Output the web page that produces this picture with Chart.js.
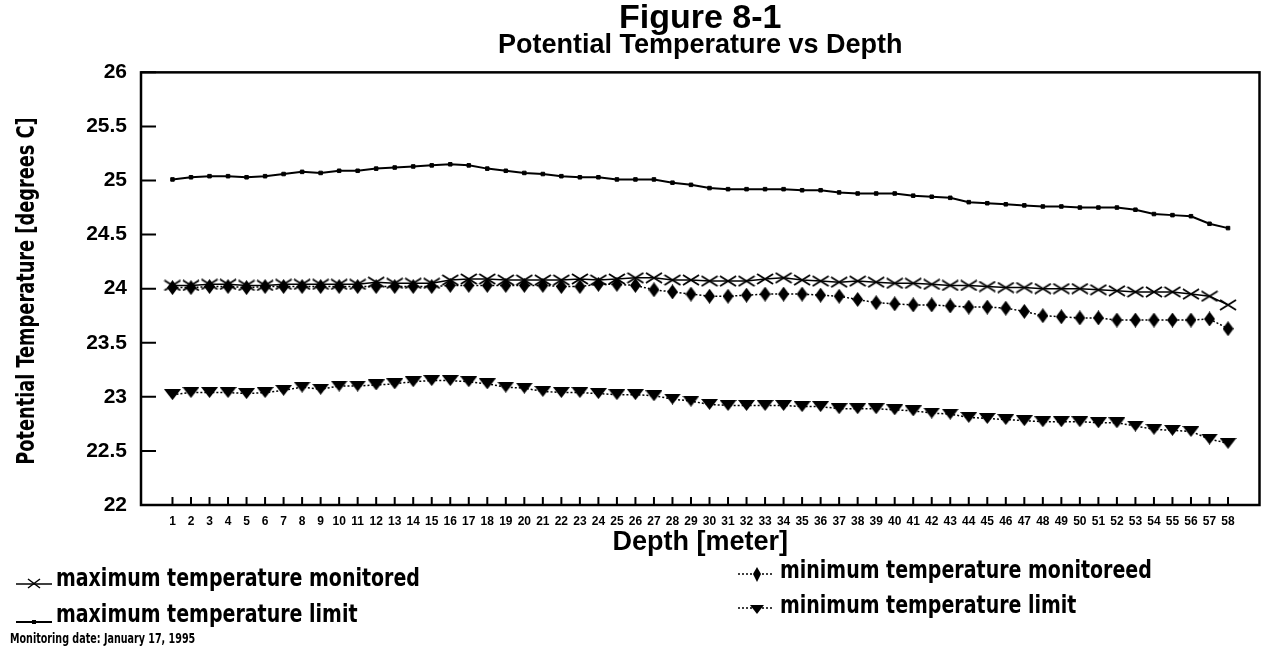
<!DOCTYPE html>
<html>
<head>
<meta charset="utf-8">
<title>Figure 8-1</title>
<script src="https://cdn.jsdelivr.net/npm/chart.js@4.4.1/dist/chart.umd.min.js"></script>
<style>
  html, body { margin: 0; padding: 0; background: #fff; }
  body { width: 1265px; height: 654px; position: relative; overflow: hidden; font-family: 'Liberation Sans', Arial, sans-serif; color: #000; }
  #wrap { position: absolute; left: 0; top: 0; width: 1265px; height: 565px; }
  .narrow { font-family: 'Liberation Sans Narrow', 'Arial Narrow', 'DejaVu Sans Condensed', sans-serif; font-weight: bold; white-space: nowrap; }
  #ytitle { position: absolute; left: 25px; top: 291px; font-size: 25px; line-height: 25px;
            transform: translate(-50%, -50%) rotate(-90deg) scaleX(0.79); }
  .sym { position: absolute; }
  .leg { position: absolute; font-size: 24px; line-height: 24px; transform: scaleX(0.88); transform-origin: 0 50%; }
  #note { position: absolute; left: 10px; top: 631px; font-size: 14px; line-height: 14px; transform: scaleX(0.76); transform-origin: 0 50%; }
</style>
</head>
<body>
<div id="wrap"><canvas id="chart" width="1265" height="565"></canvas></div>
<div id="ytitle" class="narrow">Potential Temperature [degrees C]</div>

<svg class="sym" style="left:14px; top:572px;" width="40" height="20"><line x1="2" y1="12" x2="38" y2="12" stroke="#000" stroke-width="1.5"/><path d="M14 7 L26 16 M26 7 L14 16" stroke="#000" stroke-width="1.5"/></svg>
<div class="leg narrow" style="left:56px; top:566px;">maximum temperature monitored</div>
<svg class="sym" style="left:14px; top:608px;" width="40" height="20"><line x1="2" y1="14" x2="38" y2="14" stroke="#000" stroke-width="2"/><rect x="18" y="12" width="4" height="4" fill="#000"/></svg>
<div class="leg narrow" style="left:56px; top:602px;">maximum temperature limit</div>
<svg class="sym" style="left:736px; top:561px;" width="40" height="22"><line x1="2" y1="13" x2="38" y2="13" stroke="#000" stroke-width="1.5" stroke-dasharray="2 2"/><path d="M21 6 L25 13 L21 21 L17 13 Z" fill="#000"/></svg>
<div class="leg narrow" style="left:780px; top:558px;">minimum temperature monitoreed</div>
<svg class="sym" style="left:736px; top:597px;" width="40" height="20"><line x1="2" y1="11" x2="38" y2="11" stroke="#000" stroke-width="1.5" stroke-dasharray="2 2"/><path d="M14 8 L28 8 L21 17 Z" fill="#000"/></svg>
<div class="leg narrow" style="left:780px; top:593px;">minimum temperature limit</div>
<div id="note" class="narrow">Monitoring date: January 17, 1995</div>

<script>
// depth in metres along the profile
const depths = [1, 2, 3, 4, 5, 6, 7, 8, 9, 10, 11, 12, 13, 14, 15, 16, 17, 18, 19, 20,
  21, 22, 23, 24, 25, 26, 27, 28, 29, 30, 31, 32, 33, 34, 35, 36, 37, 38, 39, 40,
  41, 42, 43, 44, 45, 46, 47, 48, 49, 50, 51, 52, 53, 54, 55, 56, 57, 58];

const maxMonitored = [24.03, 24.03, 24.04, 24.04, 24.03, 24.03, 24.04, 24.04, 24.04, 24.04,
  24.04, 24.06, 24.05, 24.05, 24.05, 24.08, 24.09, 24.09, 24.08, 24.08,
  24.08, 24.08, 24.09, 24.08, 24.09, 24.10, 24.10, 24.08, 24.08, 24.07,
  24.07, 24.07, 24.09, 24.10, 24.08, 24.07, 24.06, 24.07, 24.06, 24.05,
  24.05, 24.04, 24.03, 24.03, 24.02, 24.01, 24.01, 24.00, 24.00, 24.00,
  23.99, 23.98, 23.97, 23.97, 23.97, 23.95, 23.93, 23.85];

const minMonitored = [24.01, 24.01, 24.02, 24.02, 24.01, 24.02, 24.02, 24.02, 24.02, 24.02,
  24.02, 24.02, 24.02, 24.02, 24.02, 24.03, 24.03, 24.03, 24.03, 24.03,
  24.03, 24.02, 24.02, 24.04, 24.04, 24.03, 23.99, 23.97, 23.95, 23.93,
  23.93, 23.94, 23.95, 23.95, 23.95, 23.94, 23.93, 23.90, 23.87, 23.86,
  23.85, 23.85, 23.84, 23.83, 23.83, 23.82, 23.79, 23.75, 23.74, 23.73,
  23.73, 23.71, 23.71, 23.71, 23.71, 23.71, 23.72, 23.63];

const maxLimit = [25.01, 25.03, 25.04, 25.04, 25.03, 25.04, 25.06, 25.08, 25.07, 25.09,
  25.09, 25.11, 25.12, 25.13, 25.14, 25.15, 25.14, 25.11, 25.09, 25.07,
  25.06, 25.04, 25.03, 25.03, 25.01, 25.01, 25.01, 24.98, 24.96, 24.93,
  24.92, 24.92, 24.92, 24.92, 24.91, 24.91, 24.89, 24.88, 24.88, 24.88,
  24.86, 24.85, 24.84, 24.80, 24.79, 24.78, 24.77, 24.76, 24.76, 24.75,
  24.75, 24.75, 24.73, 24.69, 24.68, 24.67, 24.60, 24.56];

const minLimit = [23.02, 23.04, 23.04, 23.04, 23.03, 23.04, 23.06, 23.09, 23.07, 23.10,
  23.10, 23.11, 23.12, 23.14, 23.15, 23.15, 23.14, 23.12, 23.09, 23.08,
  23.05, 23.04, 23.04, 23.03, 23.02, 23.02, 23.01, 22.98, 22.96, 22.93,
  22.92, 22.92, 22.92, 22.92, 22.91, 22.91, 22.89, 22.89, 22.89, 22.88,
  22.87, 22.85, 22.84, 22.81, 22.80, 22.79, 22.78, 22.77, 22.77, 22.77,
  22.76, 22.76, 22.73, 22.70, 22.69, 22.68, 22.61, 22.57];

const yTicks = [22, 22.5, 23, 23.5, 24, 24.5, 25, 25.5, 26];

const SANS = "'Liberation Sans', Arial, sans-serif";

const pairs = vals => depths.map((d, i) => ({ x: d, y: vals[i] }));

// small offscreen canvases used as point markers
function marker(w, h, draw) {
  const c = document.createElement('canvas');
  c.width = w; c.height = h;
  const g = c.getContext('2d');
  g.fillStyle = '#000'; g.strokeStyle = '#000';
  draw(g, w, h);
  return c;
}
const crossMark = marker(18, 12, (g, w, h) => {
  g.lineWidth = 1.8;
  g.beginPath();
  g.moveTo(1, 1); g.lineTo(w - 1, h - 1);
  g.moveTo(w - 1, 1); g.lineTo(1, h - 1);
  g.stroke();
});
const diamondMark = marker(11, 15, (g, w, h) => {
  g.beginPath();
  g.moveTo(w / 2, 0); g.lineTo(w, h / 2); g.lineTo(w / 2, h); g.lineTo(0, h / 2);
  g.closePath(); g.fill();
});
const triangleMark = marker(17, 11, (g, w, h) => {
  g.beginPath();
  g.moveTo(0, 0); g.lineTo(w, 0); g.lineTo(w / 2, h);
  g.closePath(); g.fill();
});

// box round the plot plus inward tick marks on the left and bottom
const frameTicks = {
  id: 'frameTicks',
  afterDraw(chart) {
    const { ctx, chartArea: a, scales: { x, y } } = chart;
    ctx.save();
    ctx.strokeStyle = '#000';
    ctx.lineWidth = 2.5;
    ctx.strokeRect(a.left, a.top, a.right - a.left, a.bottom - a.top);
    ctx.beginPath();
    ctx.lineWidth = 2;
    y.ticks.forEach(t => {
      const py = y.getPixelForValue(t.value);
      ctx.moveTo(a.left, py);
      ctx.lineTo(a.left + 15, py);
    });
    x.ticks.forEach(t => {
      const px = x.getPixelForValue(t.value);
      ctx.moveTo(px, a.bottom);
      ctx.lineTo(px, a.bottom - 8);
    });
    ctx.stroke();
    ctx.restore();
  }
};

new Chart(document.getElementById('chart'), {
  type: 'line',
  data: {
    datasets: [
      {
        label: 'maximum temperature monitored',
        data: pairs(maxMonitored),
        borderColor: '#000', borderWidth: 1.5,
        pointStyle: crossMark
      },
      {
        label: 'minimum temperature monitoreed',
        data: pairs(minMonitored),
        borderColor: '#000', borderWidth: 1.5, borderDash: [2, 2],
        pointStyle: diamondMark
      },
      {
        label: 'maximum temperature limit',
        data: pairs(maxLimit),
        borderColor: '#000', borderWidth: 2,
        pointStyle: 'rect', pointRadius: 2.5, pointBorderWidth: 1,
        pointBackgroundColor: '#000', pointBorderColor: '#000'
      },
      {
        label: 'minimum temperature limit',
        data: pairs(minLimit),
        borderColor: '#000', borderWidth: 1.5, borderDash: [2, 2],
        pointStyle: triangleMark
      }
    ]
  },
  options: {
    responsive: false,
    animation: false,
    layout: { padding: { left: 0, right: 3, top: 0, bottom: 0 } },
    plugins: {
      legend: { display: false },
      tooltip: { enabled: false },
      title: {
        display: true, text: 'Figure 8-1', color: '#000', fullSize: false,
        font: { family: SANS, size: 34, weight: 'bold', lineHeight: 0.6 },
        padding: { top: 8, bottom: 0 }
      },
      subtitle: {
        display: true, text: 'Potential Temperature vs Depth', color: '#000', fullSize: false,
        font: { family: SANS, size: 27, weight: 'bold', lineHeight: 0.85 },
        padding: { top: 6, bottom: 15 }
      }
    },
    scales: {
      x: {
        type: 'linear', min: -0.7, max: 59.7,
        grid: { display: false, drawTicks: false },
        border: { display: false },
        afterBuildTicks: axis => {
          axis.ticks = axis.ticks.filter(t => depths.includes(t.value));
        },
        afterFit: axis => { axis.height = 60; },
        ticks: {
          stepSize: 1, autoSkip: false, maxRotation: 0, padding: 9,
          color: '#000', font: { family: SANS, size: 12, weight: 'bold' }
        },
        title: {
          display: true, text: 'Depth [meter]', color: '#000',
          font: { family: SANS, size: 27, weight: 'bold', lineHeight: 1.2 },
          padding: { top: 0, bottom: 6 }
        }
      },
      y: {
        min: 22, max: 26,
        grid: { display: false, drawTicks: false },
        border: { display: false },
        afterBuildTicks: axis => {
          axis.ticks = yTicks.map(v => ({ value: v }));
        },
        afterFit: axis => { axis.width = 141; },
        ticks: {
          padding: 14, color: '#000',
          font: { family: SANS, size: 21, weight: 'bold' },
          callback: v => String(v)
        }
      }
    }
  },
  plugins: [frameTicks]
});
</script>
</body>
</html>
